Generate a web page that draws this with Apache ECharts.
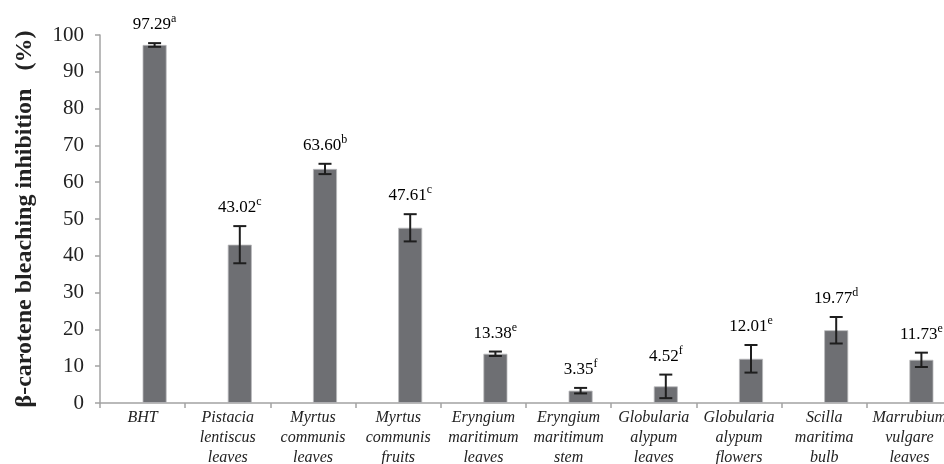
<!DOCTYPE html>
<html>
<head>
<meta charset="utf-8">
<script src="https://cdn.jsdelivr.net/npm/echarts@6/dist/echarts.min.js"></script>
<style>
  html, body { margin: 0; padding: 0; background: #fff; }
  #chart { width: 944px; height: 464px; }
</style>
</head>
<body>
<div id="chart"></div>
<script>
// Extracts and reference antioxidant
const categories = [
  'BHT',
  'Pistacia\nlentiscus\nleaves',
  'Myrtus\ncommunis\nleaves',
  'Myrtus\ncommunis\nfruits',
  'Eryngium\nmaritimum\nleaves',
  'Eryngium\nmaritimum\nstem',
  'Globularia\nalypum\nleaves',
  'Globularia\nalypum\nflowers',
  'Scilla\nmaritima\nbulb',
  'Marrubium\nvulgare\nleaves'
];
// Mean inhibition (%)
const inhibition = [97.29, 43.02, 63.60, 47.61, 13.38, 3.35, 4.52, 12.01, 19.77, 11.73];
// Standard deviation
const stdDev = [0.5, 5.05, 1.4, 3.7, 0.6, 0.75, 3.2, 3.75, 3.6, 1.95];
// Significance letters
const letters = ['a', 'c', 'b', 'c', 'e', 'f', 'f', 'e', 'd', 'e'];
// Y axis ticks
const yMin = 0, yMax = 100, yStep = 10;

const SERIF = '"Liberation Serif", "Times New Roman", serif';
const BAR_W = 24;
const SHIFT = BAR_W / 2;   // bar sits right of the category centre (empty slot on the left)

const chart = echarts.init(document.getElementById('chart'), null, { renderer: 'canvas' });

const errData = inhibition.map((v, i) => [i, v, stdDev[i]]);

chart.setOption({
  animation: false,
  backgroundColor: '#ffffff',
  grid: { left: 100, top: 35, bottom: 61, right: -8, containLabel: false, outerBoundsMode: 'none' },
  xAxis: {
    type: 'category',
    data: categories,
    boundaryGap: true,
    axisLine: { lineStyle: { color: '#a3a3a3', width: 1.5 } },
    axisTick: { show: true, length: 5, lineStyle: { color: '#a3a3a3', width: 1.5 } },
    axisLabel: {
      interval: 0,
      margin: 5,
      fontFamily: SERIF,
      fontStyle: 'italic',
      fontSize: 16,
      lineHeight: 20,
      color: '#222'
    },
    splitLine: { show: false }
  },
  yAxis: {
    type: 'value',
    min: yMin, max: yMax, interval: yStep,
    name: 'β-carotene bleaching inhibition   (%)',
    nameLocation: 'middle',
    nameRotate: 90,
    nameGap: 63,
    nameTextStyle: { fontFamily: SERIF, fontWeight: 'bold', fontSize: 24, color: '#222' },
    axisLine: { show: true, lineStyle: { color: '#a3a3a3', width: 1.5 } },
    axisTick: { show: true, length: 5, lineStyle: { color: '#a3a3a3', width: 1.5 } },
    axisLabel: { fontFamily: SERIF, fontSize: 21, color: '#222', margin: 16 },
    splitLine: { show: false }
  },
  series: [
    {
      // empty slot that pushes the visible bar to the right half of each category
      type: 'bar',
      data: categories.map(() => null),
      barWidth: BAR_W,
      barGap: '0%',
      silent: true
    },
    {
      type: 'bar',
      data: inhibition,
      barWidth: BAR_W,
      barGap: '0%',
      itemStyle: { color: '#6e6f73', borderColor: '#b9b9bb', borderWidth: 0.8 }
    },
    {
      type: 'custom',
      data: errData,
      z: 10,
      renderItem: function (params, api) {
        const i = api.value(0);
        const v = api.value(1);
        const sd = api.value(2);
        const letter = letters[i];
        const top = api.coord([i, v + sd]);
        const bot = api.coord([i, v - sd]);
        const x = top[0] + SHIFT;
        const cap = 6.5;
        const ls = { stroke: '#1e1e1e', lineWidth: 2 };
        return {
          type: 'group',
          children: [
            { type: 'line', shape: { x1: x, y1: top[1], x2: x, y2: bot[1] }, style: ls },
            { type: 'line', shape: { x1: x - cap, y1: top[1], x2: x + cap, y2: top[1] }, style: ls },
            { type: 'line', shape: { x1: x - cap, y1: bot[1], x2: x + cap, y2: bot[1] }, style: ls },
            {
              type: 'text',
              style: {
                x: x,
                y: top[1] - 10,
                text: '{v|' + v.toFixed(2) + '}{s|' + letter + '}',
                align: 'center',
                verticalAlign: 'bottom',
                rich: {
                  v: { fontFamily: SERIF, fontSize: 17, color: '#222', lineHeight: 20, verticalAlign: 'bottom' },
                  s: { fontFamily: SERIF, fontSize: 12, color: '#222', lineHeight: 20, verticalAlign: 'top', padding: [0, 0, 9, 0] }
                }
              }
            }
          ]
        };
      }
    }
  ]
});
</script>
</body>
</html>
